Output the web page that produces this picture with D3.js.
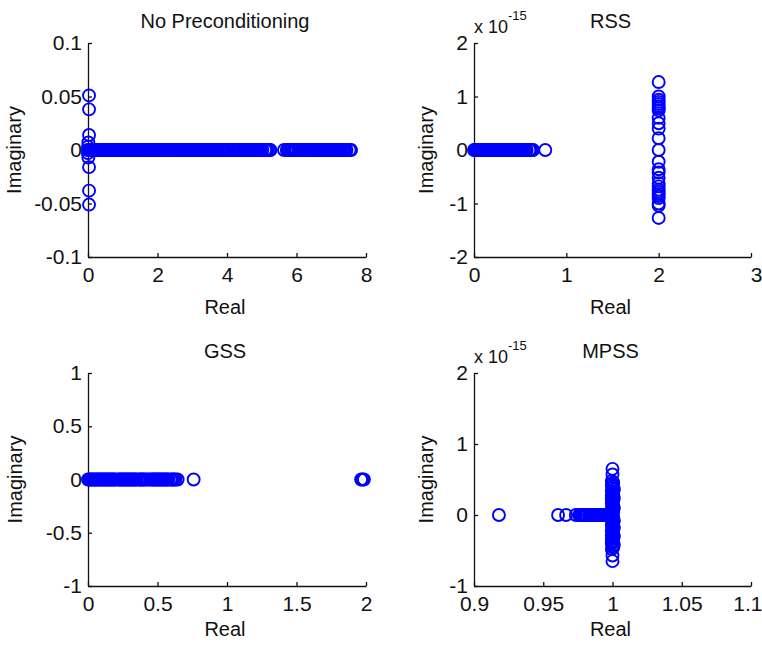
<!DOCTYPE html>
<html>
<head>
<meta charset="utf-8">
<script src="https://cdnjs.cloudflare.com/ajax/libs/d3/7.8.5/d3.min.js"></script>
<style>
body { margin: 0; background: #fff; }
text { font-family: Arial, "Liberation Sans", sans-serif; }
</style>
</head>
<body>
<script>
// eigenvalues (real part, imag part)
// points on the real axis are kept as plain real values

// No Preconditioning
var noprec_real = [0.00, 0.02, 0.05, 0.09, 0.13, 0.17, 0.21, 0.25, 0.29, 0.33,
    0.37, 0.41, 0.45, 0.49, 0.53, 0.57, 0.61, 0.65, 0.69, 0.73, 0.77, 0.81, 0.85,
    0.89, 0.93, 0.97, 1.01, 1.05, 1.09, 1.13, 1.17, 1.21, 1.25, 1.29, 1.33, 1.37,
    1.41, 1.45, 1.49, 1.53, 1.57, 1.61, 1.65, 1.69, 1.73, 1.77, 1.81, 1.85, 1.89,
    1.93, 1.97, 2.01, 2.05, 2.12, 2.16, 2.20, 2.24, 2.27, 2.34, 2.38, 2.42, 2.46,
    2.50, 2.54, 2.58, 2.62, 2.66, 2.70, 2.74, 2.78, 2.82, 2.86, 2.90, 2.94, 2.98,
    3.02, 3.06, 3.10, 3.14, 3.18, 3.22, 3.26, 3.30, 3.34, 3.38, 3.42, 3.46, 3.50,
    3.54, 3.58, 3.62, 3.66, 3.70, 3.74, 3.78, 3.82, 3.86, 3.90, 3.94, 3.98, 4.02,
    4.06, 4.14, 4.18, 4.22, 4.26, 4.30, 4.34, 4.38, 4.42, 4.46, 4.50, 4.54, 4.58,
    4.62, 4.66, 4.70, 4.74, 4.78, 4.82, 4.86, 4.90, 4.94, 4.98, 5.02, 5.10, 5.14,
    5.18, 5.22, 5.25, 5.64, 5.72, 5.76, 5.80, 5.84, 5.88, 5.92, 5.96, 6.00, 6.08,
    6.12, 6.16, 6.20, 6.28, 6.32, 6.36, 6.40, 6.44, 6.48, 6.52, 6.56, 6.60, 6.64,
    6.68, 6.72, 6.76, 6.80, 6.84, 6.88, 6.92, 6.96, 7.00, 7.04, 7.08, 7.12, 7.16,
    7.20, 7.24, 7.28, 7.32, 7.36, 7.40, 7.44, 7.53, 7.57];
var noprec_cplx = [[0.03, 0.051], [0.03, -0.051], [0.03, 0.038], [0.03, -0.038],
    [0.03, 0.014], [0.03, -0.016], [0.01, 0.007], [0.01, -0.007],
    [0.00, 0.003], [0.00, -0.003]];

// RSS (imag part in units of 1e-15)
var rss_real = [0.000, 0.012, 0.025, 0.038, 0.052, 0.066, 0.080, 0.094, 0.108,
    0.122, 0.136, 0.150, 0.164, 0.178, 0.192, 0.206, 0.220, 0.234, 0.248, 0.262,
    0.276, 0.290, 0.304, 0.318, 0.332, 0.346, 0.360, 0.374, 0.388, 0.402, 0.416,
    0.430, 0.444, 0.458, 0.472, 0.486, 0.500, 0.514, 0.528, 0.542, 0.556, 0.570,
    0.600, 0.614, 0.628, 0.640, 0.772];
var rss_cplx = [[2.0, 1.27], [2.0, 1.00], [2.0, 0.94], [2.0, 0.90], [2.0, 0.86],
    [2.0, 0.82], [2.0, 0.78], [2.0, 0.74], [2.0, 0.60], [2.0, 0.50], [2.0, 0.40],
    [2.0, 0.22], [2.0, 0.00], [2.0, -0.22], [2.0, -0.36], [2.0, -0.42],
    [2.0, -0.52], [2.0, -0.62], [2.0, -0.68], [2.0, -0.74], [2.0, -0.78],
    [2.0, -0.82], [2.0, -0.86], [2.0, -0.90], [2.0, -1.00], [2.0, -1.04],
    [2.0, -1.27]];

// GSS
var gss_real = [0.000, 0.009, 0.018, 0.027, 0.036, 0.045, 0.054, 0.063, 0.072,
    0.081, 0.090, 0.099, 0.108, 0.117, 0.126, 0.135, 0.144, 0.153, 0.162, 0.171,
    0.180, 0.189, 0.198, 0.216, 0.225, 0.234, 0.243, 0.252, 0.261, 0.270, 0.279,
    0.288, 0.297, 0.306, 0.315, 0.324, 0.333, 0.342, 0.351, 0.366, 0.375, 0.384,
    0.393, 0.402, 0.411, 0.426, 0.435, 0.452, 0.461, 0.470, 0.479, 0.488, 0.497,
    0.506, 0.515, 0.524, 0.533, 0.542, 0.551, 0.560, 0.569, 0.578, 0.594, 0.603,
    0.612, 0.621, 0.630, 0.645, 0.760, 1.965, 1.975, 1.985];
var gss_cplx = [];

// MPSS (imag part in units of 1e-15)
var mpss_real = [0.9180, 0.9607, 0.9665, 0.9735, 0.9760, 0.9769, 0.9778, 0.9787,
    0.9796, 0.9805, 0.9814, 0.9830, 0.9839, 0.9848, 0.9857, 0.9866, 0.9875,
    0.9884, 0.9893, 0.9902, 0.9911, 0.9920, 0.9929, 0.9938, 0.9947, 0.9956,
    0.9965, 0.9974, 0.9983, 0.9992, 1.0000];
var mpss_cplx = [[1.0, 0.65], [1.0, 0.57], [0.9995, 0.48], [1.0005, 0.46],
    [1.0, 0.44], [0.9995, 0.42], [1.0005, 0.40], [1.0, 0.38], [1.001, 0.36],
    [0.9995, 0.34], [1.0, 0.32], [1.0005, 0.30], [0.9995, 0.28], [1.0, 0.26],
    [1.001, 0.24], [0.9995, 0.22], [1.0005, 0.20], [1.0, 0.18], [0.9995, 0.16],
    [1.0005, 0.14], [1.0, 0.12], [1.001, 0.10], [0.9995, 0.08], [1.0, 0.06],
    [1.0005, 0.04], [0.9995, 0.02], [1.0, -0.02], [1.0005, -0.04],
    [0.9995, -0.06], [1.001, -0.08], [1.0, -0.10], [1.0005, -0.12],
    [0.9995, -0.14], [1.0, -0.16], [1.001, -0.18], [1.0005, -0.20],
    [0.9995, -0.22], [1.0, -0.24], [1.0005, -0.26], [0.9995, -0.28],
    [1.001, -0.30], [1.0, -0.32], [0.9995, -0.34], [1.0005, -0.36],
    [1.0, -0.38], [0.9995, -0.40], [1.001, -0.42], [1.0, -0.44],
    [1.0005, -0.46], [0.9995, -0.48], [1.0, -0.57], [1.0, -0.65]];

// ticks
var noprec_xticks = [0, 2, 4, 6, 8];
var noprec_yticks = [-0.1, -0.05, 0, 0.05, 0.1];
var rss_xticks = [0, 1, 2, 3];
var rss_yticks = [-2, -1, 0, 1, 2];
var gss_xticks = [0, 0.5, 1, 1.5, 2];
var gss_yticks = [-1, -0.5, 0, 0.5, 1];
var mpss_xticks = [0.9, 0.95, 1, 1.05, 1.1];
var mpss_yticks = [-1, 0, 1, 2];

var titles = ["No Preconditioning", "RSS", "GSS", "MPSS"];

var W = 762, H = 645;
var blue = "#0000ff";
var font = 20;

var panels = [
    {title: titles[0], re: noprec_real, cplx: noprec_cplx,
     xt: noprec_xticks, yt: noprec_yticks, exp: false,
     x0: 88, x1: 366, y0: 43, y1: 257, ylab: 67, xlab: 57},
    {title: titles[1], re: rss_real, cplx: rss_cplx,
     xt: rss_xticks, yt: rss_yticks, exp: true,
     x0: 474, x1: 751, y0: 43, y1: 257, ylab: 41, xlab: 57},
    {title: titles[2], re: gss_real, cplx: gss_cplx,
     xt: gss_xticks, yt: gss_yticks, exp: false,
     x0: 88, x1: 366, y0: 373, y1: 586, ylab: 66, xlab: 50},
    {title: titles[3], re: mpss_real, cplx: mpss_cplx,
     xt: mpss_xticks, yt: mpss_yticks, exp: true,
     x0: 474, x1: 751, y0: 373, y1: 586, ylab: 41, xlab: 50}
];

var svg = d3.select("body").append("svg")
    .attr("width", W)
    .attr("height", H);

function draw_panel(p) {
    var g = svg.append("g");

    var x = d3.scaleLinear()
        .domain(d3.extent(p.xt))
        .range([p.x0, p.x1]);
    var y = d3.scaleLinear()
        .domain(d3.extent(p.yt))
        .range([p.y1, p.y0]);

    // axes, inward ticks, box off
    var gx = g.append("g")
        .attr("transform", "translate(0," + p.y1 + ")")
        .call(d3.axisBottom(x).tickValues(p.xt).tickFormat(String)
              .tickSizeInner(-4).tickSizeOuter(0).tickPadding(10));
    var gy = g.append("g")
        .attr("transform", "translate(" + p.x0 + ",0)")
        .call(d3.axisLeft(y).tickValues(p.yt).tickFormat(String)
              .tickSizeInner(-4).tickSizeOuter(0).tickPadding(6));

    [gx, gy].forEach(function(a) {
        a.attr("font-size", 21)
         .attr("font-family", "Arial, 'Liberation Sans', sans-serif");
        a.selectAll("path, line")
         .attr("stroke", "#111")
         .attr("stroke-width", 1.3);
        a.selectAll("text").attr("fill", "#111");
    });

    // last x label sits on the right edge, keep it inside
    gx.selectAll(".tick:last-of-type text")
        .filter(function() { return p.x1 > W - 20; })
        .attr("text-anchor", "end")
        .attr("x", 11);

    // points: real-axis eigenvalues then complex ones
    var pts = p.re.map(function(r) { return [r, 0]; }).concat(p.cplx);

    g.append("g")
        .selectAll("circle")
        .data(pts)
        .join("circle")
        .attr("cx", function(d) { return x(d[0]); })
        .attr("cy", function(d) { return y(d[1]); })
        .attr("r", 6)
        .attr("fill", "none")
        .attr("stroke", blue)
        .attr("stroke-width", 1.9);

    var cx = (p.x0 + p.x1) / 2 - 2;

    g.append("text")
        .attr("x", cx)
        .attr("y", p.y0 - 15)
        .attr("text-anchor", "middle")
        .attr("font-size", font)
        .attr("fill", "#111")
        .text(p.title);

    g.append("text")
        .attr("x", cx)
        .attr("y", p.y1 + p.xlab)
        .attr("text-anchor", "middle")
        .attr("font-size", font)
        .attr("fill", "#111")
        .text("Real");

    g.append("text")
        .attr("transform", "translate(" + (p.x0 - p.ylab) + ","
              + ((p.y0 + p.y1) / 2) + ") rotate(-90)")
        .attr("text-anchor", "middle")
        .attr("font-size", font)
        .attr("fill", "#111")
        .text("Imaginary");

    // exponent label
    if (p.exp) {
        var e = g.append("text")
            .attr("x", p.x0)
            .attr("y", p.y0 - 10)
            .attr("font-size", 18)
            .attr("fill", "#111");
        e.append("tspan").text("x 10");
        e.append("tspan")
            .attr("dy", -13)
            .attr("font-size", 13)
            .text("-15");
    }
}

panels.forEach(draw_panel);
</script>
</body>
</html>
